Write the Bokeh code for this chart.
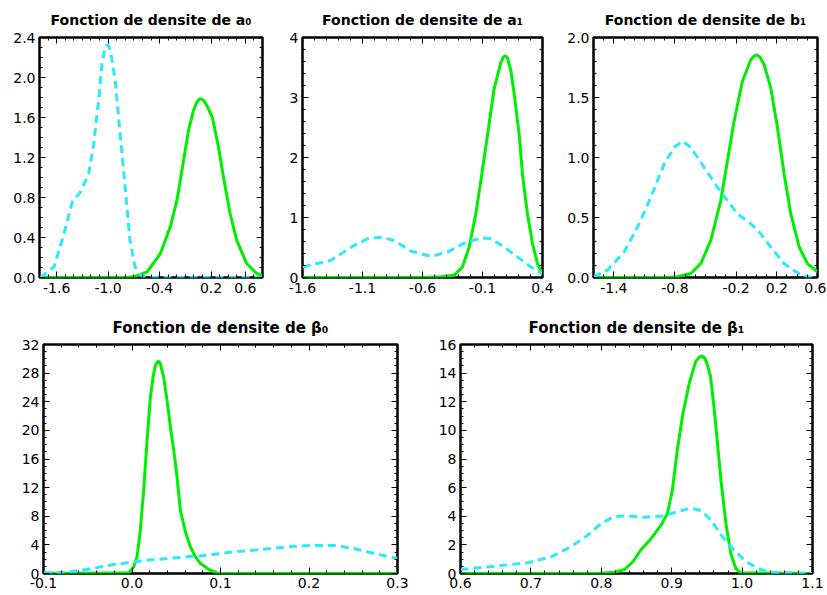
import numpy as np
from bokeh.plotting import figure
from bokeh.layouts import column, row
from bokeh.models import Range1d, FixedTicker, LinearAxis, CustomJSTickFormatter, PrintfTickFormatter
from bokeh.embed import file_html
from bokeh.resources import INLINE

GREEN = "#00ee00"
CYAN = "#2ee8ff"

# ---------------- data ----------------
# a0
a0_green_x = [-1.8, -0.8, -0.70, -0.545, -0.39, -0.275, -0.197, -0.12, -0.062, -0.004, 0.035, 0.074, 0.11, 0.151, 0.216, 0.286, 0.344, 0.422, 0.499, 0.615, 0.731, 0.8]
a0_green_y = [0.0, 0.0, 0.007, 0.057, 0.24, 0.507, 0.773, 1.173, 1.473, 1.673, 1.755, 1.79, 1.775, 1.72, 1.6, 1.307, 1.007, 0.64, 0.373, 0.14, 0.04, 0.02]
a0_cyan_x = [-1.79, -1.63, -1.514, -1.417, -1.321, -1.226, -1.168, -1.11, -1.071, -1.04, -1.015, -0.99, -0.96, -0.918, -0.86, -0.802, -0.745, -0.687, -0.61, -0.5, 0.8]
a0_cyan_y = [0.0, 0.107, 0.44, 0.757, 0.857, 1.04, 1.34, 1.773, 2.14, 2.28, 2.33, 2.31, 2.2, 1.973, 1.44, 0.907, 0.373, 0.107, 0.013, 0.0, 0.0]

# a1
a1_green_x = [-1.6, -0.6, -0.447, -0.336, -0.267, -0.211, -0.156, -0.114, -0.058, -0.003, 0.053, 0.072, 0.089, 0.108, 0.136, 0.164, 0.206, 0.233, 0.275, 0.317, 0.358, 0.4]
a1_green_y = [0.0, 0.0, 0.011, 0.039, 0.176, 0.506, 1.056, 1.607, 2.377, 3.147, 3.587, 3.67, 3.70, 3.66, 3.45, 3.06, 2.377, 1.717, 1.056, 0.561, 0.231, 0.039]
a1_cyan_x = [-1.6, -1.364, -1.169, -1.058, -0.947, -0.836, -0.697, -0.53, -0.392, -0.253, -0.114, -0.03, 0.081, 0.192, 0.303, 0.4]
a1_cyan_y = [0.176, 0.286, 0.534, 0.644, 0.671, 0.616, 0.44, 0.352, 0.424, 0.572, 0.66, 0.644, 0.506, 0.341, 0.176, 0.066]

# b1
b1_green_x = [-1.6, -0.9, -0.775, -0.644, -0.546, -0.448, -0.350, -0.284, -0.219, -0.137, -0.055, -0.025, 0.004, 0.035, 0.076, 0.141, 0.207, 0.272, 0.338, 0.420, 0.501, 0.6]
b1_green_y = [0.0, 0.0, 0.006, 0.033, 0.116, 0.309, 0.641, 0.972, 1.304, 1.635, 1.815, 1.845, 1.855, 1.835, 1.773, 1.580, 1.249, 0.862, 0.530, 0.254, 0.116, 0.047]
b1_cyan_x = [-1.6, -1.463, -1.299, -1.168, -1.037, -0.906, -0.808, -0.726, -0.644, -0.513, -0.382, -0.284, -0.186, -0.055, 0.043, 0.141, 0.272, 0.403, 0.501, 0.6]
b1_cyan_y = [0.006, 0.061, 0.213, 0.42, 0.669, 0.945, 1.083, 1.138, 1.083, 0.917, 0.751, 0.641, 0.530, 0.448, 0.365, 0.254, 0.116, 0.039, 0.006, 0.0]

# beta0
be0_green_x = [-0.1, -0.0038, 0.0019, 0.0057, 0.0094, 0.0132, 0.017, 0.0208, 0.0238, 0.0264, 0.0285, 0.0302, 0.0321, 0.0358, 0.0396, 0.0434, 0.0472, 0.0509, 0.0547, 0.0604, 0.066, 0.0717, 0.0774, 0.0868, 0.0962, 0.1, 0.3]
be0_green_y = [0.0, 0.09, 0.93, 2.33, 6.05, 11.63, 18.6, 24.65, 27.44, 29.07, 29.5, 29.67, 29.3, 27.44, 24.19, 20.47, 17.21, 13.49, 8.8, 5.8, 3.72, 2.33, 1.4, 0.56, 0.09, 0.0, 0.0]
be0_cyan_x = [-0.1, -0.0736, -0.051, -0.028, -0.0057, 0.017, 0.0396, 0.0623, 0.085, 0.115, 0.145, 0.1755, 0.202, 0.228, 0.251, 0.2736, 0.3]
be0_cyan_y = [0.09, 0.19, 0.56, 1.12, 1.49, 1.86, 2.09, 2.33, 2.56, 3.02, 3.35, 3.72, 3.91, 3.91, 3.49, 2.79, 2.09]

# beta1
be1_green_x = [0.6, 0.795, 0.8185, 0.833, 0.845, 0.856, 0.871, 0.885, 0.894, 0.901, 0.908, 0.916, 0.925, 0.934, 0.939, 0.943, 0.947, 0.95, 0.955, 0.960, 0.965, 0.970, 0.977, 0.984, 0.991, 0.998, 1.1]
be1_green_y = [0.0, 0.0, 0.09, 0.28, 0.82, 1.64, 2.45, 3.39, 4.2, 5.84, 8.64, 11.2, 13.3, 14.8, 15.1, 15.2, 15.05, 14.7, 13.8, 11.7, 9.1, 6.5, 3.5, 1.4, 0.35, 0.05, 0.0]
be1_cyan_x = [0.6, 0.648, 0.696, 0.729, 0.757, 0.781, 0.8, 0.818, 0.837, 0.861, 0.889, 0.908, 0.927, 0.942, 0.956, 0.970, 0.984, 1.003, 1.022, 1.041, 1.1]
be1_cyan_y = [0.28, 0.51, 0.75, 1.17, 1.87, 2.69, 3.5, 3.97, 4.02, 3.93, 4.02, 4.32, 4.56, 4.39, 3.74, 2.69, 1.87, 0.93, 0.35, 0.09, 0.0]

# titles and ticks
titles = ["Fonction de densite de a\u2080", "Fonction de densite de a\u2081", "Fonction de densite de b\u2081",
          "Fonction de densite de \u03b2\u2080", "Fonction de densite de \u03b2\u2081"]
a0_xticks = [-1.6, -1.0, -0.4, 0.2, 0.6]
a0_yticks = [0.0, 0.4, 0.8, 1.2, 1.6, 2.0, 2.4]
a1_xticks = [-1.6, -1.1, -0.6, -0.1, 0.4]
a1_yticks = [0, 1, 2, 3, 4]
b1_xticks = [-1.4, -0.8, -0.2, 0.2, 0.6]
b1_yticks = [0.0, 0.5, 1.0, 1.5, 2.0]
be0_xticks = [-0.1, 0.0, 0.1, 0.2, 0.3]
be0_yticks = [0, 4, 8, 12, 16, 20, 24, 28, 32]
be1_xticks = [0.6, 0.7, 0.8, 0.9, 1.0, 1.1]
be1_yticks = [0, 2, 4, 6, 8, 10, 12, 14, 16]


def minors(lo, hi, step, majors):
    vals = np.round(np.arange(lo, hi + step * 0.01, step), 6)
    return [float(v) for v in vals if all(abs(v - m) > step * 0.01 for m in majors)]


def panel(title, xr, yr, xt, yt, xstep, ystep, fw, fh, borders, gx, gy, cx, cy, fs, yfmt, xstand, tstand, tfs):
    l, r, t, b = borders
    p = figure(width=l + fw + r, height=t + fh + b, x_range=Range1d(*xr), y_range=Range1d(*yr),
               output_backend="svg", toolbar_location=None, title=title,
               min_border_left=l, min_border_right=r, min_border_top=t, min_border_bottom=b)
    p.title.align = "center"
    p.title.text_font = "DejaVu Sans"
    p.title.text_font_size = tfs
    p.title.text_font_style = "bold"
    p.title.text_color = "black"
    p.title.standoff = tstand
    p.grid.visible = False
    p.outline_line_color = "black"
    p.outline_line_width = 2.5
    p.outline_line_alpha = 1
    bottom = p.below[0]
    left = p.left[0]
    xtk = FixedTicker(ticks=xt, minor_ticks=minors(xr[0], xr[1], xstep, xt))
    ytk = FixedTicker(ticks=yt, minor_ticks=minors(yr[0], yr[1], ystep, yt))
    bottom.ticker = xtk
    left.ticker = ytk
    bottom.formatter = PrintfTickFormatter(format="%.1f")
    left.formatter = PrintfTickFormatter(format=yfmt)
    empty = CustomJSTickFormatter(code="return ''")
    top = LinearAxis(ticker=xtk, formatter=empty)
    right = LinearAxis(ticker=ytk, formatter=empty)
    p.add_layout(top, "above")
    p.add_layout(right, "right")
    for ax in [bottom, left, top, right]:
        ax.axis_line_color = None
        ax.major_tick_in = 6
        ax.major_tick_out = 0
        ax.minor_tick_in = 3
        ax.minor_tick_out = 0
        ax.major_tick_line_color = "black"
        ax.minor_tick_line_color = "black"
        ax.major_tick_line_width = 1
        ax.major_label_text_font = "DejaVu Sans"
        ax.major_label_text_font_size = fs
        ax.major_label_text_color = "black"
    bottom.major_label_standoff = xstand
    left.major_label_standoff = 4
    top.major_label_standoff = 0
    right.major_label_standoff = 0
    top.major_label_text_font_size = "1px"
    right.major_label_text_font_size = "1px"
    p.line(gx, gy, line_color=GREEN, line_width=3)
    p.line(cx, cy, line_color=CYAN, line_width=3, line_dash="8 5")
    return p


p1 = panel(titles[0], (-1.8, 0.8), (0, 2.4), a0_xticks, a0_yticks, 0.1, 0.1, 223, 240, (39, 12, 37, 22),
           a0_green_x, a0_green_y, a0_cyan_x, a0_cyan_y, "14px", "%.1f", 5, 19, "14px")
p2 = panel(titles[1], (-1.6, 0.4), (0, 4), a1_xticks, a1_yticks, 0.1, 0.2, 240, 240, (28, 12, 37, 22),
           a1_green_x, a1_green_y, a1_cyan_x, a1_cyan_y, "14px", "%d", 5, 19, "14px")
p3 = panel(titles[2], (-1.6, 0.6), (0, 2.0), b1_xticks, b1_yticks, 0.1, 0.1, 224, 240, (39, 9, 37, 22),
           b1_green_x, b1_green_y, b1_cyan_x, b1_cyan_y, "14px", "%.1f", 5, 19, "14px")
p4 = panel(titles[3], (-0.1, 0.3), (0, 32), be0_xticks, be0_yticks, 0.02, 1, 354, 229, (43, 30, 45, 21),
           be0_green_x, be0_green_y, be0_cyan_x, be0_cyan_y, "14px", "%d", 4, 16, "15px")
p5 = panel(titles[4], (0.6, 1.1), (0, 16), be1_xticks, be1_yticks, 0.02, 0.5, 352, 229, (33, 14, 45, 21),
           be1_green_x, be1_green_y, be1_cyan_x, be1_cyan_y, "14px", "%d", 4, 16, "15px")

layout = column(row(p1, p2, p3), row(p4, p5))
open("out.html", "w").write(file_html(layout, INLINE))
